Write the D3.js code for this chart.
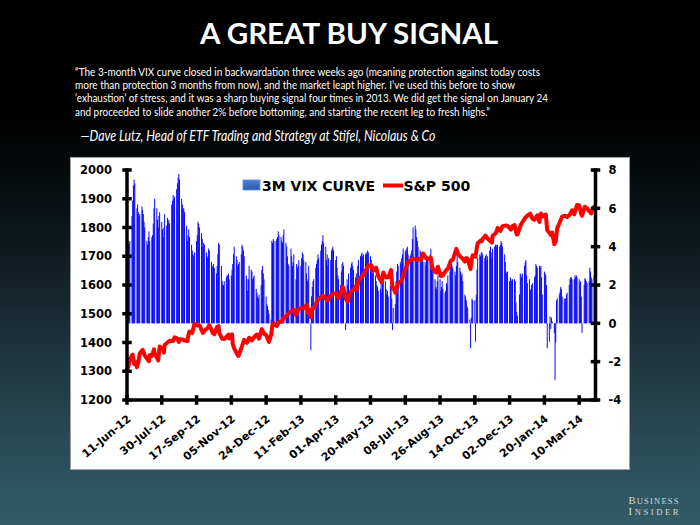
<!DOCTYPE html>
<html><head><meta charset="utf-8">
<script src="https://cdn.jsdelivr.net/npm/d3@7"></script>
<style>html,body{margin:0;padding:0;background:#000}svg{display:block}</style>
</head><body>
<script>
// ---------------- DATA ----------------
const titleText = "A GREAT BUY SIGNAL";
const quoteLines = [
  "\u201CThe 3-month VIX curve closed in backwardation three weeks ago (meaning protection against today costs",
  "more than protection 3 months from now), and the market leapt higher. I\u2019ve used this before to show",
  "\u2018exhaustion\u2019 of stress, and it was a sharp buying signal four times in 2013. We did get the signal on January 24",
  "and proceeded to slide another 2% before bottoming, and starting the recent leg to fresh highs.\u201D"
];
const attribution = "\u2014Dave Lutz, Head of ETF Trading and Strategy at Stifel, Nicolaus & Co";
const seriesNames = ["3M VIX CURVE", "S&P 500"];

const firstTradingDay = "2012-06-11"; // one bar per weekday from here
// 3M VIX curve, one value per trading day (5 per week)
const vixCurve = [
 4.0,4.3,4.1,4.2,4.3,  5.6,6.4,7.2,7.5,7.3,  6.0,6.2,5.8,5.6,5.7,  6.1,5.9,5.7,5.3,5.0,
 4.3,4.1,4.5,4.8,4.3,  4.5,4.6,5.2,6.0,6.5,  6.0,5.4,5.0,5.6,5.8,  5.3,4.9,4.5,5.0,5.7,
 5.1,5.5,5.3,5.4,5.2,  6.2,6.4,6.7,6.5,6.6,  7.0,7.3,7.6,7.8,7.5,  6.5,6.2,6.0,6.0,5.8,
 5.1,4.3,4.6,4.9,4.5,  4.1,3.8,3.6,3.5,3.7,  4.3,4.6,5.3,5.2,5.0,  4.7,4.4,4.0,4.2,4.1,
 3.7,3.4,3.5,3.9,3.8,  3.2,3.0,2.9,3.1,2.9,  2.6,3.0,3.6,4.2,4.1,  3.0,2.2,2.0,2.0,2.2,
 2.4,2.5,2.5,2.6,2.3,  2.5,2.8,3.1,3.6,4.0,  3.5,3.3,3.0,3.1,3.2,  3.6,4.1,4.0,3.8,3.5,
 2.5,2.3,1.7,2.3,3.0,  2.8,2.7,2.3,2.4,2.5,  1.8,1.6,1.4,1.3,1.5,  2.0,2.8,3.0,2.6,2.3,
 1.4,1.0,0.9,0.7,0.5,  0.2,4.3,4.2,4.4,4.3,  4.3,4.4,4.5,4.8,4.6,  4.5,4.3,4.2,4.6,4.9,
 4.2,4.0,3.5,3.1,3.0,  3.9,3.5,3.0,3.2,3.6,  2.3,3.1,2.9,3.0,3.3,  3.0,3.4,3.7,3.6,3.3,
 3.2,2.6,2.2,2.3,3.0, -1.4,1.4,1.9,2.2,2.3,  2.9,3.1,3.3,3.6,3.4,  3.8,4.1,4.3,4.6,4.2,
 4.0,3.3,3.6,3.0,3.4,  3.3,3.8,3.9,4.0,3.8,  3.3,3.5,2.9,2.5,2.3,  2.0,2.7,3.1,3.2,3.0,
-0.35,1.6,2.3,2.0,2.6, 2.9,3.1,3.2,3.0,2.8,  2.4,2.6,2.3,3.0,3.3,  3.5,3.6,3.7,3.5,3.6,
 3.6,3.7,3.6,3.8,3.7,  3.5,3.3,2.9,2.6,3.0,  2.5,2.2,2.0,1.9,1.7,  1.8,2.2,1.6,2.4,2.7,
 2.2,1.8,1.5,1.7,1.4,  2.0,2.4,1.3,-0.35,0.8, 1.0,2.2,2.7,3.1,3.0, 3.2,3.1,3.4,3.6,3.9,
 3.8,3.7,3.9,4.0,3.6,  3.5,3.6,3.8,4.4,5.0,  5.1,4.9,4.5,4.3,4.0,  3.8,3.7,3.3,3.5,3.2,
 3.2,3.0,3.4,3.5,3.3,  3.6,3.9,3.5,3.0,2.8,  2.3,1.9,1.8,2.2,2.5,  2.3,1.7,1.9,2.2,1.8,
 1.6,1.7,2.1,2.0,2.5,  2.7,3.0,3.1,3.0,2.9,  2.7,2.5,3.0,3.6,3.2,  2.9,2.7,2.5,2.6,2.2,
 1.5,1.4,1.2,0.9,0.8,  0.2,-1.3,0.3,1.3,1.2, 1.2,-0.96,1.5,2.8,3.4, 3.6,3.5,3.7,3.7,3.6,
 3.4,3.5,3.6,3.3,3.5,  3.8,4.0,3.7,3.4,3.9,  4.0,4.1,4.0,4.1,4.1,  4.0,4.1,4.3,4.2,4.0,
 3.6,3.2,2.7,2.6,2.7,  2.2,2.4,2.3,2.2,2.3,  2.3,2.2,1.1,0.6,0.4,  1.5,2.6,2.5,2.4,2.6,
 3.0,3.2,3.3,2.5,2.1,  2.3,1.7,1.8,2.0,2.1,  2.4,2.5,3.1,3.0,2.9,  3.0,2.9,3.0,2.4,1.5,
 2.7,2.6,2.5,2.0,-1.3, -0.96,0.35,-0.3,0.3,0.1, -0.5,-2.96,-1.0,1.2,1.3, 1.5,1.65,1.9,1.8,1.4,
 1.3,1.1,1.3,1.5,1.6,  2.0,2.3,2.4,2.4,2.3,  2.3,2.5,2.4,2.5,2.4,  2.3,2.1,2.2,1.4,-0.5,
 2.0,2.35,2.3,2.2,2.1, 2.2,2.9,2.7,2.4,2.3,  2.5
];

const spDates = [
"2012-06-11","2012-06-13","2012-06-15","2012-06-19","2012-06-21","2012-06-22","2012-06-25","2012-06-27","2012-06-29",
"2012-07-03","2012-07-06","2012-07-12","2012-07-13","2012-07-16","2012-07-19","2012-07-20","2012-07-25","2012-07-27",
"2012-08-01","2012-08-02","2012-08-03","2012-08-08","2012-08-10","2012-08-15","2012-08-17","2012-08-21","2012-08-23","2012-08-24","2012-08-29","2012-08-31",
"2012-09-04","2012-09-06","2012-09-07","2012-09-11","2012-09-14","2012-09-18","2012-09-21","2012-09-26","2012-09-28",
"2012-10-03","2012-10-05","2012-10-10","2012-10-12","2012-10-16","2012-10-18","2012-10-19","2012-10-23","2012-10-26",
"2012-11-01","2012-11-02","2012-11-06","2012-11-07","2012-11-09","2012-11-14","2012-11-15","2012-11-16","2012-11-20","2012-11-23","2012-11-27","2012-11-30",
"2012-12-04","2012-12-07","2012-12-11","2012-12-14","2012-12-18","2012-12-21","2012-12-24","2012-12-28","2012-12-31",
"2013-01-02","2013-01-04","2013-01-08","2013-01-11","2013-01-15","2013-01-18","2013-01-22","2013-01-25","2013-01-29",
"2013-02-01","2013-02-04","2013-02-08","2013-02-12","2013-02-15","2013-02-19","2013-02-21","2013-02-22","2013-02-25","2013-02-27",
"2013-03-01","2013-03-05","2013-03-08","2013-03-14","2013-03-15","2013-03-19","2013-03-21","2013-03-22","2013-03-26","2013-03-28",
"2013-04-02","2013-04-05","2013-04-11","2013-04-12","2013-04-15","2013-04-18","2013-04-19","2013-04-23","2013-04-26","2013-04-30",
"2013-05-01","2013-05-03","2013-05-08","2013-05-10","2013-05-15","2013-05-17","2013-05-21","2013-05-23","2013-05-24","2013-05-28","2013-05-31",
"2013-06-05","2013-06-07","2013-06-11","2013-06-14","2013-06-18","2013-06-20","2013-06-21","2013-06-24","2013-06-28",
"2013-07-03","2013-07-05","2013-07-11","2013-07-12","2013-07-18","2013-07-19","2013-07-24","2013-07-26","2013-07-30",
"2013-08-02","2013-08-07","2013-08-09","2013-08-13","2013-08-15","2013-08-16","2013-08-19","2013-08-21","2013-08-23","2013-08-27","2013-08-29","2013-08-30",
"2013-09-04","2013-09-06","2013-09-10","2013-09-13","2013-09-18","2013-09-20","2013-09-24","2013-09-27","2013-09-30",
"2013-10-02","2013-10-04","2013-10-08","2013-10-10","2013-10-11","2013-10-15","2013-10-17","2013-10-18","2013-10-22","2013-10-24","2013-10-25","2013-10-29",
"2013-11-01","2013-11-07","2013-11-08","2013-11-13","2013-11-15","2013-11-19","2013-11-22","2013-11-27","2013-11-29",
"2013-12-04","2013-12-06","2013-12-09","2013-12-12","2013-12-13","2013-12-18","2013-12-20","2013-12-24","2013-12-27","2013-12-31",
"2014-01-03","2014-01-06","2014-01-10","2014-01-13","2014-01-15","2014-01-17","2014-01-22","2014-01-24","2014-01-27","2014-01-29","2014-01-31",
"2014-02-03","2014-02-05","2014-02-07","2014-02-11","2014-02-14","2014-02-18","2014-02-21","2014-02-25","2014-02-28",
"2014-03-03","2014-03-07","2014-03-10","2014-03-13","2014-03-14","2014-03-18","2014-03-21","2014-03-24","2014-03-27","2014-03-28","2014-03-31"
];
const spValues = [
1308.9,1314.9,1342.8,1358.0,1325.5,1335.0,1313.7,1331.9,1362.2,
1374.0,1354.7,1334.8,1356.8,1353.6,1376.5,1362.7,1337.9,1386.0,
1375.3,1365.0,1391.0,1402.2,1405.9,1405.5,1418.2,1413.5,1402.1,1411.1,1410.5,1406.6,
1404.9,1432.1,1437.9,1433.6,1465.8,1459.3,1460.2,1433.3,1440.7,
1451.0,1460.9,1432.6,1428.6,1454.9,1457.3,1433.2,1413.1,1411.9,
1427.6,1414.2,1428.4,1394.5,1379.9,1355.5,1353.3,1359.9,1387.0,1409.2,1398.9,1416.2,
1407.1,1418.1,1427.8,1413.6,1446.8,1430.2,1426.7,1402.4,1426.2,
1462.4,1466.5,1457.2,1472.1,1472.3,1486.0,1492.6,1503.0,1507.8,
1513.2,1495.7,1517.9,1519.4,1519.8,1530.9,1502.4,1515.6,1487.9,1516.0,
1518.2,1539.8,1551.2,1563.2,1560.7,1548.3,1545.8,1556.9,1563.8,1569.2,
1570.3,1553.3,1593.4,1588.9,1552.4,1541.6,1555.3,1578.8,1582.2,1597.6,
1582.7,1614.4,1632.7,1633.7,1658.8,1667.5,1669.2,1650.5,1649.6,1660.1,1630.7,
1608.9,1643.4,1626.1,1626.7,1651.8,1588.2,1592.4,1573.1,1606.3,
1615.4,1631.9,1675.0,1680.2,1689.4,1692.1,1685.9,1691.7,1686.0,
1709.7,1690.9,1691.4,1694.2,1661.3,1655.8,1646.1,1642.8,1663.5,1630.5,1638.2,1633.0,
1653.1,1655.2,1684.0,1688.0,1725.5,1709.9,1697.4,1691.8,1681.6,
1693.9,1690.5,1655.5,1692.6,1703.2,1698.1,1733.2,1744.5,1754.7,1752.1,1759.8,1772.0,
1761.6,1747.2,1770.6,1782.0,1798.2,1787.9,1804.8,1807.2,1805.8,
1792.8,1805.1,1808.4,1775.5,1775.3,1810.7,1818.3,1833.3,1841.4,1848.4,
1831.4,1826.8,1842.4,1819.2,1848.4,1838.7,1844.9,1790.3,1781.6,1774.2,1782.6,
1741.9,1751.6,1797.0,1819.8,1838.6,1840.8,1836.3,1845.1,1859.5,
1845.7,1878.0,1877.2,1846.3,1841.1,1872.3,1866.5,1857.4,1849.0,1857.6,1872.3
];

const leftTicks = [1200,1300,1400,1500,1600,1700,1800,1900,2000];
const rightTicks = [-4,-2,0,2,4,6,8];
const xTickLabels = ["11-Jun-12","30-Jul-12","17-Sep-12","05-Nov-12","24-Dec-12","11-Feb-13",
  "01-Apr-13","20-May-13","08-Jul-13","26-Aug-13","14-Oct-13","02-Dec-13","20-Jan-14","10-Mar-14"];
const xDomain = ["2012-06-11","2014-04-02"];

// ---------------- CHART ----------------
const W = 700, H = 525;
const parseISO = d3.timeParse("%Y-%m-%d");
const parseLbl = d3.timeParse("%d-%b-%y");

const svg = d3.select("body").append("svg").attr("width", W).attr("height", H);
const defs = svg.append("defs");
const bg = defs.append("linearGradient").attr("id","bg").attr("x1",0).attr("y1",0).attr("x2",0).attr("y2",1);
[[0,"#000000"],[0.22,"#000000"],[0.45,"#0d171b"],[0.7,"#1f3842"],[0.88,"#2c4f5c"],[1,"#345b69"]]
  .forEach(([o,c]) => bg.append("stop").attr("offset",o).attr("stop-color",c));
const lg = defs.append("linearGradient").attr("id","lg").attr("x1",0).attr("y1",0).attr("x2",0).attr("y2",1);
lg.append("stop").attr("offset",0).attr("stop-color","#4f82d0");
lg.append("stop").attr("offset",1).attr("stop-color","#2a58b0");

svg.append("rect").attr("width",W).attr("height",H).attr("fill","url(#bg)");

// title & quote
svg.append("text").attr("x",349).attr("y",44).attr("text-anchor","middle")
  .attr("font-family","Lato, 'Open Sans', sans-serif").attr("font-weight",700).attr("font-size",29)
  .attr("fill","#fff").attr("textLength",298).attr("lengthAdjust","spacingAndGlyphs").text(titleText);

const quoteWidths = [465, 440, 473, 415];
svg.selectAll("text.q").data(quoteLines).join("text").attr("class","q")
  .attr("x",75).attr("y",(d,i)=>75.5 + i*13.4)
  .attr("font-family","Lato, 'Open Sans', sans-serif").attr("font-size",11).attr("fill","#fff")
  .attr("textLength",(d,i)=>quoteWidths[i]).attr("lengthAdjust","spacingAndGlyphs").text(d=>d);
svg.append("text").attr("x",80.5).attr("y",140.5)
  .attr("font-family","Lato, 'Open Sans', sans-serif").attr("font-style","italic").attr("font-size",14.5)
  .attr("fill","#fff").attr("textLength",355).attr("lengthAdjust","spacingAndGlyphs").text(attribution);

// panel
svg.append("rect").attr("x",70.5).attr("y",157.5).attr("width",559).attr("height",312)
  .attr("fill","#fff").attr("stroke","#a0a0a0").attr("stroke-width",1);

// scales
const x = d3.scaleTime().domain(xDomain.map(parseISO)).range([127, 595.5]);
const yL = d3.scaleLinear().domain([1200, 2000]).range([400, 170]);
const yR = d3.scaleLinear().domain([-4, 8]).range([400, 170]);

// trading days for bars
const days = [];
let cur = parseISO(firstTradingDay);
while (days.length < vixCurve.length) {
  const wd = cur.getDay();
  if (wd !== 0 && wd !== 6) days.push(cur);
  cur = d3.timeDay.offset(cur, 1);
}
const barData = vixCurve.map((v,i)=>({d:days[i], v}));
const dayW = x(d3.timeDay.offset(days[0],1)) - x(days[0]);

svg.append("g").selectAll("rect").data(barData).join("rect")
  .attr("x", d => x(d.d) - dayW/2 - 0.12)
  .attr("width", dayW + 0.24)
  .attr("y", d => Math.min(yR(d.v), yR(0)))
  .attr("height", d => Math.abs(yR(d.v) - yR(0)))
  .attr("fill", "#0000ff");

// S&P line
const spData = spDates.map((d,i)=>({d:parseISO(d), v:spValues[i]}));
svg.append("path").datum(spData)
  .attr("d", d3.line().x(d=>x(d.d)).y(d=>yL(d.v)))
  .attr("fill","none").attr("stroke","#ff0000").attr("stroke-width",4)
  .attr("stroke-linejoin","round").attr("stroke-linecap","round");

// axes
const axFont = "'DejaVu Sans', Verdana, sans-serif";
const gL = svg.append("g").attr("transform","translate(127,0)")
  .call(d3.axisLeft(yL).tickValues(leftTicks).tickSize(0).tickPadding(15).tickFormat(d3.format("d")));
const gR = svg.append("g").attr("transform","translate(595.5,0)")
  .call(d3.axisRight(yR).tickValues(rightTicks).tickSize(0).tickPadding(13).tickFormat(d=>d<0?"-"+Math.abs(d):String(d)));
[gL, gR].forEach(g => {
  g.select(".domain").remove();
  g.selectAll("text").attr("font-family",axFont).attr("font-weight","bold").attr("font-size",11.5).attr("fill","#000");
});
// axis lines and cross ticks
const axG = svg.append("g").attr("stroke","#000").attr("stroke-linecap","square");
axG.append("line").attr("x1",127).attr("x2",127).attr("y1",yL(2000)).attr("y2",yL(1200)).attr("stroke-width",3.5);
axG.append("line").attr("x1",595.5).attr("x2",595.5).attr("y1",yR(8)).attr("y2",yR(-4)).attr("stroke-width",3.5);
axG.append("line").attr("x1",127).attr("x2",595.5).attr("y1",400).attr("y2",400).attr("stroke-width",3.5);
axG.selectAll("line.tl").data(leftTicks).join("line").attr("class","tl")
  .attr("x1",124).attr("x2",130).attr("y1",d=>yL(d)).attr("y2",d=>yL(d)).attr("stroke-width",3.5);
axG.selectAll("line.tr").data(rightTicks).join("line").attr("class","tr")
  .attr("x1",592.5).attr("x2",598.5).attr("y1",d=>yR(d)).attr("y2",d=>yR(d)).attr("stroke-width",3.5);
const xTickDates = xTickLabels.map(parseLbl);
axG.selectAll("line.tx").data(xTickDates).join("line").attr("class","tx")
  .attr("x1",d=>x(d)).attr("x2",d=>x(d)).attr("y1",397).attr("y2",403).attr("stroke-width",3.5);

svg.append("g").selectAll("text").data(xTickLabels).join("text")
  .attr("transform",(d)=>`translate(${x(parseLbl(d))+4.5},420) rotate(-40)`)
  .attr("text-anchor","end")
  .attr("font-family",axFont).attr("font-weight","bold").attr("font-size",11).attr("fill","#000")
  .text(d=>d);

// legend
svg.append("rect").attr("x",243).attr("y",180).attr("width",17).attr("height",10)
  .attr("fill","url(#lg)").attr("stroke","#5b8ee0").attr("stroke-width",0.8);
svg.append("text").attr("x",262).attr("y",191).attr("font-family",axFont).attr("font-weight","bold")
  .attr("font-size",14).attr("fill","#000").text(seriesNames[0]);
svg.append("line").attr("x1",383).attr("x2",403).attr("y1",185.5).attr("y2",185.5)
  .attr("stroke","#ff0000").attr("stroke-width",4);
svg.append("text").attr("x",403.5).attr("y",191).attr("font-family",axFont).attr("font-weight","bold")
  .attr("font-size",14).attr("fill","#000").text(seriesNames[1]);

// Business Insider mark
const bi = svg.append("g").attr("fill","#d4d8da").attr("font-family","'Liberation Serif', 'DejaVu Serif', serif");
bi.append("text").attr("x",628.5).attr("y",503.5).attr("font-size",10.5).attr("textLength",50)
  .attr("lengthAdjust","spacing").html('B<tspan font-size="8.5">USINESS</tspan>');
bi.append("text").attr("x",628.5).attr("y",514.5).attr("font-size",10.5).attr("textLength",50)
  .attr("lengthAdjust","spacing").html('I<tspan font-size="8.5">NSIDER</tspan>');
</script>
</body></html>
